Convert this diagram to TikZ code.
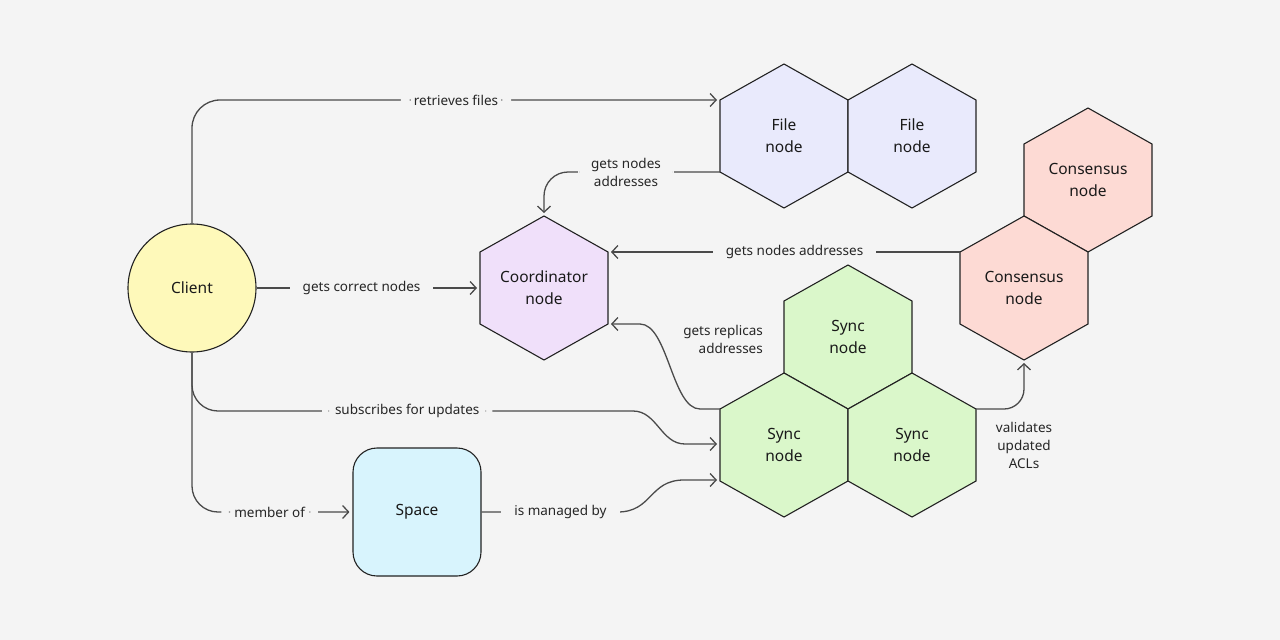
\documentclass[tikz,border=0pt]{standalone}
\usepackage{fontspec}
\setmainfont{Noto Sans}
\usepackage{tikz}
\usetikzlibrary{calc,positioning,arrows.meta}

\definecolor{bgcol}{HTML}{F4F4F4}
\definecolor{filecol}{HTML}{E9EAFC}
\definecolor{coordcol}{HTML}{F0E0FA}
\definecolor{conscol}{HTML}{FDDAD4}
\definecolor{synccol}{HTML}{DAF7CA}
\definecolor{clientcol}{HTML}{FEF9BA}
\definecolor{spacecol}{HTML}{D8F4FD}
\definecolor{shapeline}{HTML}{222222}
\definecolor{linkcol}{HTML}{4A4A4A}

\tikzset{
	hexline/.style={draw=shapeline,line width=1.1pt},
	celltext/.style={align=center,font=\fontsize{15.5}{22}\selectfont,text=black!90},
	wire/.style={draw=linkcol,line width=1.3pt},
	link/.style={wire,shorten >=3pt,-{Straight Barb[length=6pt,width=13pt]}},
	lbl/.style={fill=bgcol,inner xsep=13pt,inner ysep=2pt,align=center,font=\fontsize{13.5}{18}\selectfont,text=black!85},
}

% one hexagon cell with its corners as coordinates
\newcommand\hexcell[4]{%
	\coordinate (#1-n)  at ($(#2)+(0,-72)$);
	\coordinate (#1-ne) at ($(#2)+(64,-36)$);
	\coordinate (#1-se) at ($(#2)+(64,36)$);
	\coordinate (#1-s)  at ($(#2)+(0,72)$);
	\coordinate (#1-sw) at ($(#2)+(-64,36)$);
	\coordinate (#1-nw) at ($(#2)+(-64,-36)$);
	\coordinate (#1-w)  at ($(#2)+(-64,0)$);
	\coordinate (#1-e)  at ($(#2)+(64,0)$);
	\draw[hexline,fill=#3] (#1-n) -- (#1-ne) -- (#1-se) -- (#1-s) -- (#1-sw) -- (#1-nw) -- cycle;
	\node[celltext] (#1) at (#2) {#4};
}

\begin{document}
\begin{tikzpicture}[x=1pt,y=-1pt]
	\fill[bgcol] (0,0) rectangle (1280,640);
	\useasboundingbox (0,0) rectangle (1280,640);
	
	\hexcell{fa}{784,136}{filecol}{File\\node}
	\hexcell{fb}{912,136}{filecol}{File\\node}
	\hexcell{co}{544,288}{coordcol}{Coordinator\\node}
	\hexcell{cu}{1088,180}{conscol}{Consensus\\node}
	\hexcell{cl}{1024,288}{conscol}{Consensus\\node}
	\hexcell{st}{848,337}{synccol}{Sync\\node}
	\hexcell{sl}{784,445}{synccol}{Sync\\node}
	\hexcell{sr}{912,445}{synccol}{Sync\\node}
	
	\node[circle,draw=shapeline,line width=1.1pt,fill=clientcol,minimum size=128pt,celltext] (client) at (192,288) {Client};
	\node[draw=shapeline,line width=1.1pt,fill=spacecol,rounded corners=24pt,minimum size=128pt,celltext] (space) at (417,512) {Space};
	
	\coordinate (sl-in1) at ($(sl-w)+(0,-1)$);
	\coordinate (sl-in2) at ($(sl-w)+(0,35)$);
	\coordinate (subs) at ($(sl-in1)+(-87,-33)$);
	
	% client links
	\draw[link,rounded corners=28pt] (client.north) |- node[lbl,pos=0.75] (lretr) {retrieves files} (fa-nw);
	\draw[link] (client.east) -- node[lbl,pos=0.47] (lcorr) {gets correct nodes} (co-w);
	\draw[wire,rounded corners=26pt] (client.south) |- node[lbl,pos=0.744] (lsubs) {subscribes for updates} (subs);
	\draw[link] (subs) .. controls +(24,0) and +(-24,0) .. ($(sl-in1)+(-35,0)$) -- (sl-in1);
	\draw[link,rounded corners=26pt] (client.south) |- node[lbl,pos=0.742] (lmemb) {member of} (space.west);
	\draw[link] (space.east) -- node[lbl,pos=0.58] (lmang) {is managed by} ++(136,0)
		.. controls +(35,0) and +(-35,0) .. ($(sl-in2)+(-36,0)$) -- (sl-in2);
	
	% links to the coordinator
	\draw[link,rounded corners=24pt] (fa-sw) -| node[lbl,pos=0.267] (lgets) {gets nodes\\addresses} (co-n);
	\draw[link] (cl-nw) -- node[lbl,pos=0.47] (laddr) {gets nodes addresses} (co-ne);
	\draw[link] (sl-nw) -- ++(-20,0) .. controls +(-28,0) and +(28,0) .. ($(co-se)+(32,0)$) -- (co-se);
	\node[lbl,fill=none,align=right,anchor=east] (lrepl) at ($(st-w)+(-8,2)$) {gets replicas\\addresses};
	
	\draw[link,rounded corners=20pt] (sr-ne) -| node[lbl,fill=none,pos=0.5,below=11pt] (lvali) {validates\\updated\\ACLs} (cl-s);
\end{tikzpicture}
\end{document}
